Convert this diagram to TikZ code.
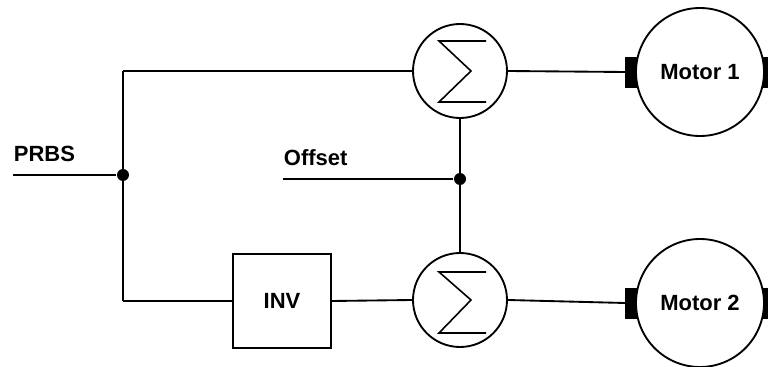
\documentclass[tikz,border=0pt]{standalone}
\usepackage{fontspec}
\setmainfont{Liberation Sans}
\usetikzlibrary{calc}
\begin{document}
\begin{tikzpicture}[x=0.75pt,y=-0.75pt,line width=1.4pt,
  lbl/.style={font=\bfseries\fontsize{16.5}{19}\selectfont,inner sep=0pt},
  sumnode/.style={circle,draw,minimum size=70.5pt,inner sep=0pt},
  motor/.style={circle,draw,minimum size=96pt,inner sep=0pt,font=\bfseries\fontsize{16.5}{19}\selectfont},
  invbox/.style={draw,minimum width=73.5pt,minimum height=70.5pt,inner sep=0pt,font=\bfseries\fontsize{16.5}{19}\selectfont},
  dot/.style={circle,fill,inner sep=0pt,minimum size=9pt},
  sigma/.style={line width=1.2pt,line join=miter}]
\useasboundingbox (0,0) rectangle (768,367);
% nodes
\node[sumnode] (s1) at (460,71) {};
\node[sumnode] (s2) at (460,300) {};
\node[motor] (m1) at (700,72) {Motor 1};
\node[motor] (m2) at (700,303) {Motor 2};
\node[invbox] (inv) at (282,301) {INV};
\node[dot] (jp) at (123,175) {};
\node[dot] (jo) at (460,179) {};
\coordinate (prbsin) at (13,175);
\coordinate (offin) at (283,179);
\coordinate (tl) at (123,71);
\coordinate (bl) at (123,301);
\node[lbl,anchor=south west] (prbs) at (13,163) {PRBS};
\node[lbl,anchor=south west] (off) at (283,167) {Offset};
% sigma glyphs
\draw[sigma,shift={(460,71)}] (26,-30) -- (-21,-30) -- (11,0) -- (-21,31) -- (26,31);
\draw[sigma,shift={(460,300)}] (26,-28) -- (-21,-28) -- (11,0) -- (-21,33) -- (26,33);
% motor shafts
\fill ($(m1.west)+(-10,-15)$) rectangle ($(m1.west)+(2,16)$);
\fill ($(m1.east)+(-2,-15)$) rectangle ($(m1.east)+(10,16)$);
\fill ($(m2.west)+(-10,-15)$) rectangle ($(m2.west)+(2,16)$);
\fill ($(m2.east)+(-2,-15)$) rectangle ($(m2.east)+(10,16)$);
% connectors
\draw (prbsin) -- (jp);
\draw (tl) -- (jp.center) -- (bl);
\draw (tl) -- (s1.west);
\draw (bl) -- (inv.west);
\draw (inv.east) -- (s2.west);
\draw (s1.east) -- ($(m1.west)+(-10,0)$);
\draw (s2.east) -- ($(m2.west)+(-10,0)$);
\draw (s1.south) -- (jo.center) -- (s2.north);
\draw (offin) -- (jo);
\end{tikzpicture}
\end{document}
